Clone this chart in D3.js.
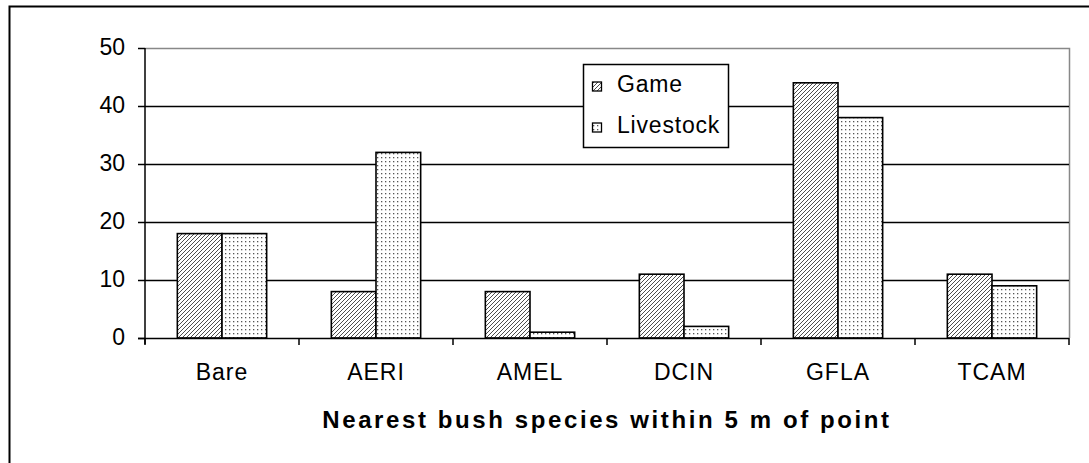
<!DOCTYPE html>
<html><head><meta charset="utf-8">
<script src="https://cdn.jsdelivr.net/npm/d3@7"></script>
<style>body{margin:0;background:#fff;} svg{display:block;font-family:"Liberation Sans",Arial,sans-serif;}</style>
</head><body><svg id="c" width="1089" height="463"></svg>
<script>
const categories = ["Bare","AERI","AMEL","DCIN","GFLA","TCAM"];
const seriesNames = ["Game","Livestock"];
const gameValues = [18,8,8,11,44,11];
const livestockValues = [18,32,1,2,38,9];
const yTicks = [0,10,20,30,40,50];
const xTitle = "Nearest bush species within 5 m of point";

const FONT = "Liberation Sans, Arial, sans-serif";
const svg = d3.select("#c");
const defs = svg.append("defs");
const ph = defs.append("pattern").attr("id","hatch").attr("patternUnits","userSpaceOnUse").attr("width",4).attr("height",4);
ph.append("rect").attr("width",4).attr("height",4).attr("fill","#fff");
ph.append("path").attr("d","M-1,1 l2,-2 M0,4 l4,-4 M3,5 l2,-2").attr("stroke","#3a3a3a").attr("stroke-width",0.9);
const pd = defs.append("pattern").attr("id","dots").attr("patternUnits","userSpaceOnUse").attr("width",4).attr("height",4);
pd.append("rect").attr("width",4).attr("height",4).attr("fill","#fff");
pd.append("rect").attr("x",1).attr("y",1).attr("width",1.3).attr("height",1.3).attr("fill","#555");
const fills = ["url(#hatch)","url(#dots)"];

svg.append("rect").attr("x",9.5).attr("y",6.5).attr("width",1100).attr("height",500).attr("fill","none").attr("stroke","#000").attr("stroke-width",2);

const L=145, R=1069, T=48, B=338;
const x = d3.scaleBand().domain(categories).range([L,R]).paddingInner(0.42).paddingOuter(0.21);
const x1 = d3.scaleBand().domain(seriesNames).range([0,x.bandwidth()]);
const y = d3.scaleLinear().domain([0,50]).range([B,T]);

svg.append("path").attr("d",`M${L},${T+0.5}H${R+0.5}V${B}`).attr("fill","none").attr("stroke","#888").attr("stroke-width",1.5);
svg.append("g").selectAll("line").data(yTicks.filter(d=>d>0&&d<50)).join("line")
  .attr("x1",L).attr("x2",R).attr("y1",d=>Math.round(y(d))+0.5).attr("y2",d=>Math.round(y(d))+0.5).attr("stroke","#000").attr("stroke-width",1.4);

const data = categories.map((c,i)=>({c, vals:[gameValues[i],livestockValues[i]]}));
const g = svg.append("g");
data.forEach(d=>{
  d.vals.forEach((v,j)=>{
    g.append("rect").attr("x",x(d.c)+x1(seriesNames[j])).attr("y",y(v)).attr("width",x1.bandwidth()).attr("height",B-y(v))
      .attr("fill",fills[j]).attr("stroke","#000").attr("stroke-width",1.6);
  });
});

const ya = d3.axisLeft(y).tickValues(yTicks).tickSize(7).tickPadding(13);
const yg = svg.append("g").attr("transform",`translate(${L},0)`).call(ya);
yg.select(".domain").attr("d",`M0,${T}V${B+6}`).attr("stroke","#000").attr("stroke-width",1.5);
yg.selectAll(".tick line").attr("stroke","#000").attr("stroke-width",1.5);
yg.selectAll(".tick text").attr("font-size",23).attr("font-family",FONT).attr("fill","#000").attr("dy","0.28em");

const xa = d3.axisBottom(x).tickSize(0).tickPadding(26);
const xg = svg.append("g").attr("transform",`translate(0,${B})`).call(xa);
xg.select(".domain").attr("d",`M${L-7},0.5H${R}`).attr("stroke","#000").attr("stroke-width",1.5);
xg.selectAll(".tick text").attr("font-size",23).attr("font-family",FONT).attr("fill","#000").attr("letter-spacing",1);
const bounds = d3.range(categories.length+1).map(i=>L+i*(R-L)/categories.length);
xg.selectAll(".bt").data(bounds).join("line").attr("x1",d=>d).attr("x2",d=>d).attr("y1",0).attr("y2",7).attr("stroke","#000").attr("stroke-width",1.5);

svg.append("text").attr("x",(L+R)/2).attr("y",428).attr("text-anchor","middle").attr("font-size",24).attr("font-weight","bold").attr("letter-spacing",2.6).text(xTitle);

const lg = svg.append("g");
lg.append("rect").attr("x",583.5).attr("y",64.5).attr("width",145).attr("height",83).attr("fill","#fff").attr("stroke","#000").attr("stroke-width",1.5);
seriesNames.forEach((s,i)=>{
  const base = 92 + i*41;
  lg.append("rect").attr("x",592.5).attr("y",base-10).attr("width",9).attr("height",9).attr("fill",fills[i]).attr("stroke","#000").attr("stroke-width",1.3);
  lg.append("text").attr("x",617).attr("y",base).attr("font-size",23).attr("letter-spacing",0.8).text(s);
});
</script></body></html>
